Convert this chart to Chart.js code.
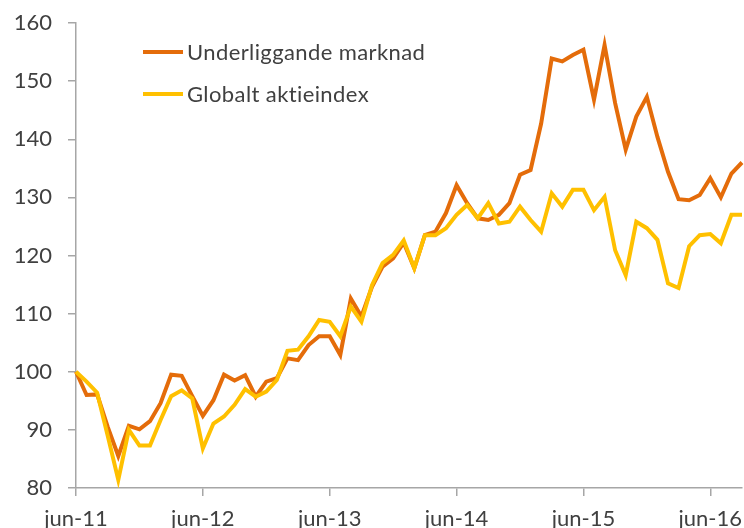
<!DOCTYPE html>
<html>
<head>
<meta charset="utf-8">
<script src="https://cdn.jsdelivr.net/npm/chart.js@4"></script>
<style>
  body { margin: 0; background: #fff; }
  #wrap { position: relative; width: 744px; height: 528px; }
  .leg { position: absolute; left: 143px; font-family: Lato, sans-serif; font-size: 22px; letter-spacing: 0.4px; color: #404040; display: flex; align-items: center; white-space: nowrap; }
  .leg span.ln { display: inline-block; width: 40px; height: 4px; margin-right: 4px; }
</style>
</head>
<body>
<div id="wrap">
  <canvas id="chart" width="744" height="528"></canvas>
  <div class="leg" style="top: 38px;"><span class="ln" style="background:#E46C0A"></span>Underliggande marknad</div>
  <div class="leg" style="top: 80px;"><span class="ln" style="background:#FFC000"></span>Globalt aktieindex</div>
</div>
<script>
// months jun-11 .. sep-16
const months = [
  "jun-11","jul-11","aug-11","sep-11","okt-11","nov-11","dec-11","jan-12","feb-12","mar-12","apr-12","maj-12",
  "jun-12","jul-12","aug-12","sep-12","okt-12","nov-12","dec-12","jan-13","feb-13","mar-13","apr-13","maj-13",
  "jun-13","jul-13","aug-13","sep-13","okt-13","nov-13","dec-13","jan-14","feb-14","mar-14","apr-14","maj-14",
  "jun-14","jul-14","aug-14","sep-14","okt-14","nov-14","dec-14","jan-15","feb-15","mar-15","apr-15","maj-15",
  "jun-15","jul-15","aug-15","sep-15","okt-15","nov-15","dec-15","jan-16","feb-16","mar-16","apr-16","maj-16",
  "jun-16","jul-16","aug-16","sep-16"
];

const underliggande = [
  100, 96, 96.1, 90.5, 85.5, 90.7, 90.1, 91.5, 94.6, 99.5, 99.3, 95.8,
  92.4, 95.1, 99.5, 98.5, 99.4, 95.7, 98.3, 98.9, 102.3, 102, 104.6, 106.1,
  106.1, 102.9, 112.6, 109.5, 114.6, 118.1, 119.5, 122.2, 117.8, 123.5, 124.1, 127.3,
  132.1, 129, 126.4, 126.1, 127, 129, 133.9, 134.7, 142.7, 153.9, 153.4, 154.5,
  155.4, 146.8, 156.2, 146.2, 138.2, 143.9, 147.3, 140.4, 134.4, 129.7, 129.5, 130.4,
  133.3, 130, 134.1, 136
];

const globalt = [
  100, 98.3, 96.4, 89, 81.4, 90, 87.3, 87.3, 91.7, 95.8, 96.8, 95.4,
  86.8, 91.1, 92.3, 94.3, 97, 95.7, 96.6, 98.6, 103.6, 103.8, 106.1, 108.9,
  108.6, 106.1, 111.2, 108.6, 114.9, 118.7, 120.1, 122.6, 117.8, 123.5, 123.5, 124.7,
  127, 128.7, 126.4, 129, 125.5, 125.8, 128.4, 126.1, 124.1, 130.7, 128.4, 131.3,
  131.3, 127.8, 130.1, 120.9, 116.6, 125.8, 124.7, 122.7, 115.2, 114.4, 121.6, 123.5,
  123.7, 122.1, 127, 127
];

const axisColor = "#a6a6a6";
const labelFont = { family: "Lato, sans-serif", size: 22 };

new Chart(document.getElementById("chart"), {
  type: "line",
  data: {
    labels: months,
    datasets: [
      { label: "Underliggande marknad", data: underliggande, borderColor: "#E46C0A", borderWidth: 4, pointRadius: 0, tension: 0, order: 1 },
      { label: "Globalt aktieindex", data: globalt, borderColor: "#FFC000", borderWidth: 4, pointRadius: 0, tension: 0, order: 0 }
    ]
  },
  options: {
    responsive: false,
    animation: false,
    layout: { padding: { top: 23, right: 2, left: 0, bottom: 0 } },
    plugins: { legend: { display: false }, tooltip: { enabled: false } },
    scales: {
      x: {
        offset: false,
        grid: { drawOnChartArea: false, drawTicks: true, tickLength: 8, color: axisColor, lineWidth: 1.5 },
        border: { display: true, color: axisColor, width: 1.5 },
        ticks: {
          autoSkip: false, maxRotation: 0, minRotation: 0, padding: 10,
          color: "#404040", font: labelFont,
          callback: function (val, idx) { return idx % 12 === 0 ? this.getLabelForValue(val) : null; }
        },
        afterFit: function (scale) { scale.height = 40; scale.paddingLeft = 0; scale.paddingRight = 0; }
      },
      y: {
        min: 80, max: 160,
        grid: { drawOnChartArea: false, drawTicks: true, tickLength: 8, color: axisColor, lineWidth: 1.5 },
        border: { display: true, color: axisColor, width: 1.5 },
        ticks: { stepSize: 10, padding: 16, color: "#404040", font: labelFont },
        afterFit: function (scale) { scale.width = 76; scale.paddingTop = 0; scale.paddingBottom = 0; }
      }
    }
  }
});
</script>
</body>
</html>
